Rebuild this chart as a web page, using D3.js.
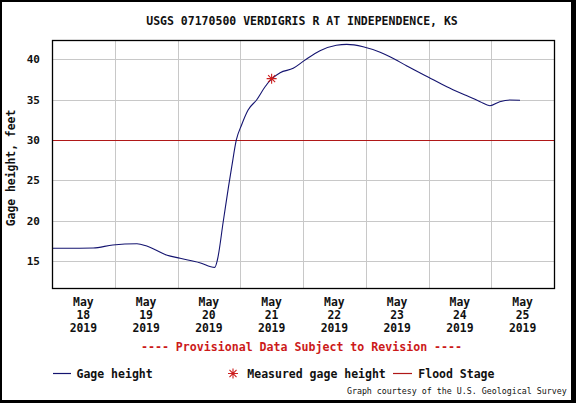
<!DOCTYPE html>
<html lang="en">
<head>
    <meta charset="UTF-8">
    <title>USGS 07170500 Verdigris R at Independence, KS</title>
    <script src="https://d3js.org/d3.v7.min.js"></script>
    <style>
        html, body { margin: 0; padding: 0; background: #000; }
        svg { display: block; }
        text { font-family: "DejaVu Sans Mono", "Liberation Mono", monospace; }
    </style>
</head>
<body>
    <svg id="chart" width="576" height="403"></svg>

    <script>
        // gage height readings (feet)
        const times = [
            "2019-05-18 00:00", "2019-05-18 05:30", "2019-05-18 15:45", "2019-05-18 23:15",
            "2019-05-19 08:30", "2019-05-19 12:15", "2019-05-19 19:45", "2019-05-20 01:00",
            "2019-05-20 08:30", "2019-05-20 14:15", "2019-05-20 15:15", "2019-05-20 17:30",
            "2019-05-20 19:30", "2019-05-20 20:45", "2019-05-20 22:30", "2019-05-21 00:30",
            "2019-05-21 03:00", "2019-05-21 06:15", "2019-05-21 09:30", "2019-05-21 12:00",
            "2019-05-21 15:15", "2019-05-21 20:15", "2019-05-22 00:45", "2019-05-22 06:30",
            "2019-05-22 12:45", "2019-05-22 16:45", "2019-05-22 23:00", "2019-05-23 05:30",
            "2019-05-23 09:15", "2019-05-23 15:45", "2019-05-24 00:00", "2019-05-24 07:00",
            "2019-05-24 14:30", "2019-05-24 19:45", "2019-05-24 23:30", "2019-05-25 03:15",
            "2019-05-25 07:15", "2019-05-25 11:00"
        ];
        const gageHeight = [
            16.58, 16.58, 16.62, 16.99,
            17.15, 16.86, 15.75, 15.34,
            14.80, 14.22, 15.13, 19.90,
            24.20, 26.70, 30.00, 31.86,
            33.72, 34.96, 36.60, 37.56,
            38.34, 38.88, 39.90, 41.07,
            41.73, 41.85, 41.56, 40.87,
            40.32, 39.17, 37.77, 36.60,
            35.50, 34.75, 34.25, 34.75,
            34.96, 34.92
        ];

        const measuredTimes = ["2019-05-21 12:00"];
        const measuredHeight = [37.6];

        const floodStage = 30;

        const dayLabels = ["2019-05-18", "2019-05-19", "2019-05-20", "2019-05-21",
                           "2019-05-22", "2019-05-23", "2019-05-24", "2019-05-25"];
        const yTicks = [15, 20, 25, 30, 35, 40];

        const parseTime = d3.timeParse("%Y-%m-%d %H:%M");
        const parseDay = d3.timeParse("%Y-%m-%d");

        const svg = d3.select("#chart");
        const W = 576, H = 403;
        const plotLeft = 52, plotRight = 554, plotTop = 40, plotBottom = 288;

        // white page with black frame round it
        svg.append("rect").attr("x", 0).attr("y", 0).attr("width", W).attr("height", H).attr("fill", "#000");
        svg.append("rect").attr("x", 2).attr("y", 2).attr("width", 569).attr("height", 398).attr("fill", "#fff");

        const x = d3.scaleTime()
            .domain([parseDay("2019-05-18"), parseDay("2019-05-26")])
            .range([plotLeft, plotRight]);
        const y = d3.scaleLinear()
            .domain([11.66, 42.39])
            .range([plotBottom, plotTop]);

        const px = v => Math.round(v) + 0.5;

        // grid
        const dayLines = x.ticks(d3.timeDay.every(1)).slice(1, -1);
        svg.append("g").selectAll("line")
            .data(dayLines)
            .enter().append("line")
            .attr("x1", d => px(x(d))).attr("x2", d => px(x(d)))
            .attr("y1", plotTop).attr("y2", plotBottom)
            .attr("stroke", "#c8c8c8").attr("stroke-width", 1);

        svg.append("g").selectAll("line")
            .data(yTicks.filter(d => d !== floodStage))
            .enter().append("line")
            .attr("x1", plotLeft).attr("x2", plotRight)
            .attr("y1", d => px(y(d))).attr("y2", d => px(y(d)))
            .attr("stroke", "#c8c8c8").attr("stroke-width", 1);

        // flood stage
        svg.append("line")
            .attr("x1", plotLeft).attr("x2", plotRight)
            .attr("y1", px(y(floodStage))).attr("y2", px(y(floodStage)))
            .attr("stroke", "#b01818").attr("stroke-width", 1.2);

        // gage height line
        const series = times.map((t, i) => ({ t: parseTime(t), v: gageHeight[i] }));
        const line = d3.line()
            .x(d => x(d.t))
            .y(d => y(d.v))
            .curve(d3.curveMonotoneX);
        svg.append("path")
            .datum(series)
            .attr("d", line)
            .attr("fill", "none")
            .attr("stroke", "#141470")
            .attr("stroke-width", 1.1);

        // 8-armed asterisk like the USGS marker
        const asterisk8 = {
            draw(ctx, size) {
                const r = Math.sqrt(size) / 2;
                const d = r * Math.SQRT1_2;
                ctx.moveTo(-r, 0); ctx.lineTo(r, 0);
                ctx.moveTo(0, -r); ctx.lineTo(0, r);
                ctx.moveTo(-d, -d); ctx.lineTo(d, d);
                ctx.moveTo(-d, d); ctx.lineTo(d, -d);
            }
        };
        const star = d3.symbol().type(asterisk8).size(100);
        svg.append("g").selectAll("path")
            .data(measuredTimes.map((t, i) => ({ t: parseTime(t), v: measuredHeight[i] })))
            .enter().append("path")
            .attr("transform", d => `translate(${x(d.t)},${y(d.v)})`)
            .attr("d", star)
            .attr("fill", "none")
            .attr("stroke", "#cc1f1f")
            .attr("stroke-width", 1.1);

        // plot frame
        svg.append("rect")
            .attr("x", plotLeft + 0.5).attr("y", plotTop + 0.5)
            .attr("width", plotRight - plotLeft).attr("height", plotBottom - plotTop)
            .attr("fill", "none").attr("stroke", "#000").attr("stroke-width", 1.3);

        // y tick labels
        svg.append("g").selectAll("text")
            .data(yTicks)
            .enter().append("text")
            .attr("x", 40).attr("y", d => y(d) + 4)
            .attr("text-anchor", "end")
            .style("font-size", "11px").style("font-weight", "bold")
            .attr("fill", "#111")
            .text(d => d);

        // y axis title
        svg.append("text")
            .attr("transform", "translate(15,168) rotate(-90)")
            .attr("text-anchor", "middle")
            .style("font-size", "11.4px").style("font-weight", "bold")
            .attr("fill", "#111")
            .text("Gage height, feet");

        // x labels, centred on each day
        const fmtDay = d3.timeFormat("%-d");
        const xl = svg.append("g").selectAll("g")
            .data(dayLabels.map(parseDay))
            .enter().append("g")
            .attr("transform", d => `translate(${x(d3.timeHour.offset(d, 12))},0)`);
        xl.append("text").attr("y", 306).text("May");
        xl.append("text").attr("y", 319).text(d => fmtDay(d));
        xl.append("text").attr("y", 332).text(d => d3.timeFormat("%Y")(d));
        xl.selectAll("text")
            .attr("text-anchor", "middle")
            .style("font-size", "11.4px").style("font-weight", "bold")
            .attr("fill", "#111");

        // title
        svg.append("text")
            .attr("x", 302).attr("y", 25)
            .attr("text-anchor", "middle")
            .style("font-size", "11.5px").style("font-weight", "bold")
            .attr("fill", "#111")
            .text("USGS 07170500 VERDIGRIS R AT INDEPENDENCE, KS");

        svg.append("text")
            .attr("x", 301.5).attr("y", 351)
            .attr("text-anchor", "middle")
            .style("font-size", "11.6px").style("font-weight", "bold")
            .attr("fill", "#cc1a1a")
            .text("---- Provisional Data Subject to Revision ----");

        // legend
        const lg = svg.append("g").style("font-size", "11.5px").style("font-weight", "bold");
        lg.append("line").attr("x1", 53).attr("x2", 71).attr("y1", 373.5).attr("y2", 373.5)
            .attr("stroke", "#141470").attr("stroke-width", 1.2);
        lg.append("text").attr("x", 76.5).attr("y", 378).attr("fill", "#111").text("Gage height");
        lg.append("path").attr("transform", "translate(233,373.5)").attr("d", star)
            .attr("fill", "none").attr("stroke", "#cc1f1f").attr("stroke-width", 1.1);
        lg.append("text").attr("x", 247.3).attr("y", 378).attr("fill", "#111").text("Measured gage height");
        lg.append("line").attr("x1", 393).attr("x2", 412).attr("y1", 373.5).attr("y2", 373.5)
            .attr("stroke", "#b01818").attr("stroke-width", 1.2);
        lg.append("text").attr("x", 418.3).attr("y", 378).attr("fill", "#111").text("Flood Stage");

        svg.append("text")
            .attr("x", 566.7).attr("y", 393.5)
            .attr("text-anchor", "end")
            .style("font-size", "8.3px")
            .attr("fill", "#111")
            .text("Graph courtesy of the U.S. Geological Survey");
    </script>
</body>
</html>
